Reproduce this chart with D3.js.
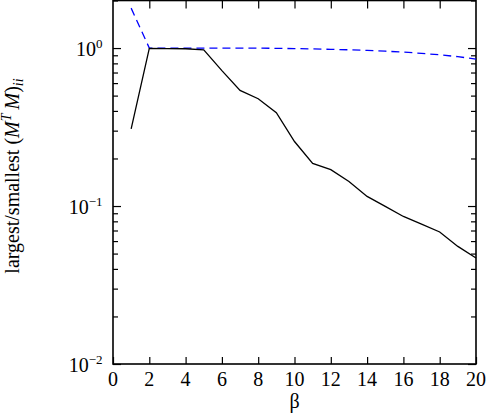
<!DOCTYPE html>
<html>
<head>
<meta charset="utf-8">
<script src="https://cdn.jsdelivr.net/npm/d3@7"></script>
<style>
  html, body { margin: 0; padding: 0; background: #fff; }
  svg { display: block; }
</style>
</head>
<body>
<svg id="chart" width="486" height="413"></svg>
<script>
// ---- data ----
const beta = [1, 2, 3, 4, 5, 6, 7, 8, 9, 10, 11, 12, 13, 14, 15, 16, 17, 18, 19, 20];
const smallestRatio = [0.308, 0.994, 0.993, 0.99, 0.975, 0.72, 0.539, 0.478, 0.39, 0.256, 0.186, 0.170, 0.143, 0.115, 0.0995, 0.0859, 0.0769, 0.0685, 0.0555, 0.0469];
const largestRatio = [1.79, 1.0, 1.0, 1.0, 1.0, 1.0, 1.0, 0.999, 0.996, 0.992, 0.987, 0.981, 0.975, 0.966, 0.955, 0.943, 0.926, 0.906, 0.882, 0.852];
const xTicks = [0, 2, 4, 6, 8, 10, 12, 14, 16, 18, 20];
const yMajor = [0.01, 0.1, 1];
const yMajorExp = ["\u22122", "\u22121", "0"];

// ---- layout ----
const FONT = "Liberation Serif";
const svg = d3.select("#chart");
const mLeft = 113, mRight = 476, mTop = 0.5, mBottom = 364;

const x = d3.scaleLinear().domain([0, 20]).range([mLeft, mRight]);
const y = d3.scaleLog().domain([0.01, 2]).range([mBottom, mTop]);

const yMinor = [];
[0.01, 0.1, 1].forEach(d => { for (let k = 2; k <= 9; k++) { const v = d * k; if (v <= 2) yMinor.push(v); } });

const g = svg.append("g").attr("font-family", FONT);

// frame
g.append("rect").attr("x", mLeft).attr("y", mTop).attr("width", mRight - mLeft).attr("height", mBottom - mTop)
  .attr("fill", "none").attr("stroke", "#000").attr("stroke-width", 1.6);

// x ticks (bottom + top, inward)
const xAxisB = d3.axisBottom(x).tickValues(xTicks).tickSize(-7).tickFormat("");
const xAxisT = d3.axisTop(x).tickValues(xTicks.filter(d => d > 0 && d < 20)).tickSize(-8).tickFormat("");
const gxb = g.append("g").attr("transform", `translate(0,${mBottom})`).call(xAxisB);
const gxt = g.append("g").attr("transform", `translate(0,${mTop})`).call(xAxisT);
[gxb, gxt].forEach(a => { a.select(".domain").remove(); a.selectAll("line").attr("stroke", "#000").attr("stroke-width", 1.2); });

// x tick labels
g.append("g").selectAll("text").data(xTicks).join("text")
  .attr("font-family", FONT)
  .attr("x", d => x(d)).attr("y", 385.5).attr("text-anchor", "middle")
  .attr("font-size", 20).text(d => d);

// y ticks (left + right, inward)
function yTicks(axisFn, tx, majorLen, minorLen) {
  const gm = g.append("g").attr("transform", `translate(${tx},0)`)
    .call(axisFn(y).tickValues(yMajor).tickSize(-majorLen).tickFormat(""));
  const gn = g.append("g").attr("transform", `translate(${tx},0)`)
    .call(axisFn(y).tickValues(yMinor).tickSize(-minorLen).tickFormat(""));
  [gm, gn].forEach(a => { a.select(".domain").remove(); a.selectAll("line").attr("stroke", "#000").attr("stroke-width", 1.2); });
}
yTicks(d3.axisLeft, mLeft, 8, 5);
yTicks(d3.axisRight, mRight, 8, 5);

// y tick labels 10^n
const yl = g.append("g").selectAll("text").data(yMajor).join("text")
  .attr("font-family", FONT)
  .attr("x", 102.5).attr("y", d => y(d) + 7.5).attr("text-anchor", "end").attr("font-size", 20);
yl.append("tspan").text("10");
yl.append("tspan").attr("dy", -7.5).attr("font-size", 13).text((d, i) => yMajorExp[i]);

// axis titles
g.append("text").attr("font-family", FONT)
  .attr("x", (mLeft + mRight) / 2).attr("y", 408).attr("text-anchor", "middle")
  .attr("font-size", 20).text("\u03b2");

const yt = g.append("text").attr("font-family", FONT)
  .attr("transform", "translate(19,176) rotate(-90)")
  .attr("text-anchor", "middle").attr("font-size", 20);
yt.append("tspan").text("largest/smallest (");
yt.append("tspan").attr("font-style", "italic").text("M");
yt.append("tspan").attr("font-style", "italic").attr("font-size", 14).attr("dy", -8).text("T");
yt.append("tspan").attr("font-style", "italic").attr("dy", 8).text("\u2009M");
yt.append("tspan").text(")");
yt.append("tspan").attr("font-style", "italic").attr("font-size", 14).attr("dy", 4).text("ii");

// lines
const line = d3.line().x((d, i) => x(beta[i])).y(d => y(d));
g.append("path").datum(largestRatio).attr("d", line).attr("fill", "none")
  .attr("stroke", "#0000ff").attr("stroke-width", 1.3).attr("stroke-dasharray", "8,5");
g.append("path").datum(smallestRatio).attr("d", line).attr("fill", "none")
  .attr("stroke", "#000").attr("stroke-width", 1.3);
</script>
</body>
</html>
